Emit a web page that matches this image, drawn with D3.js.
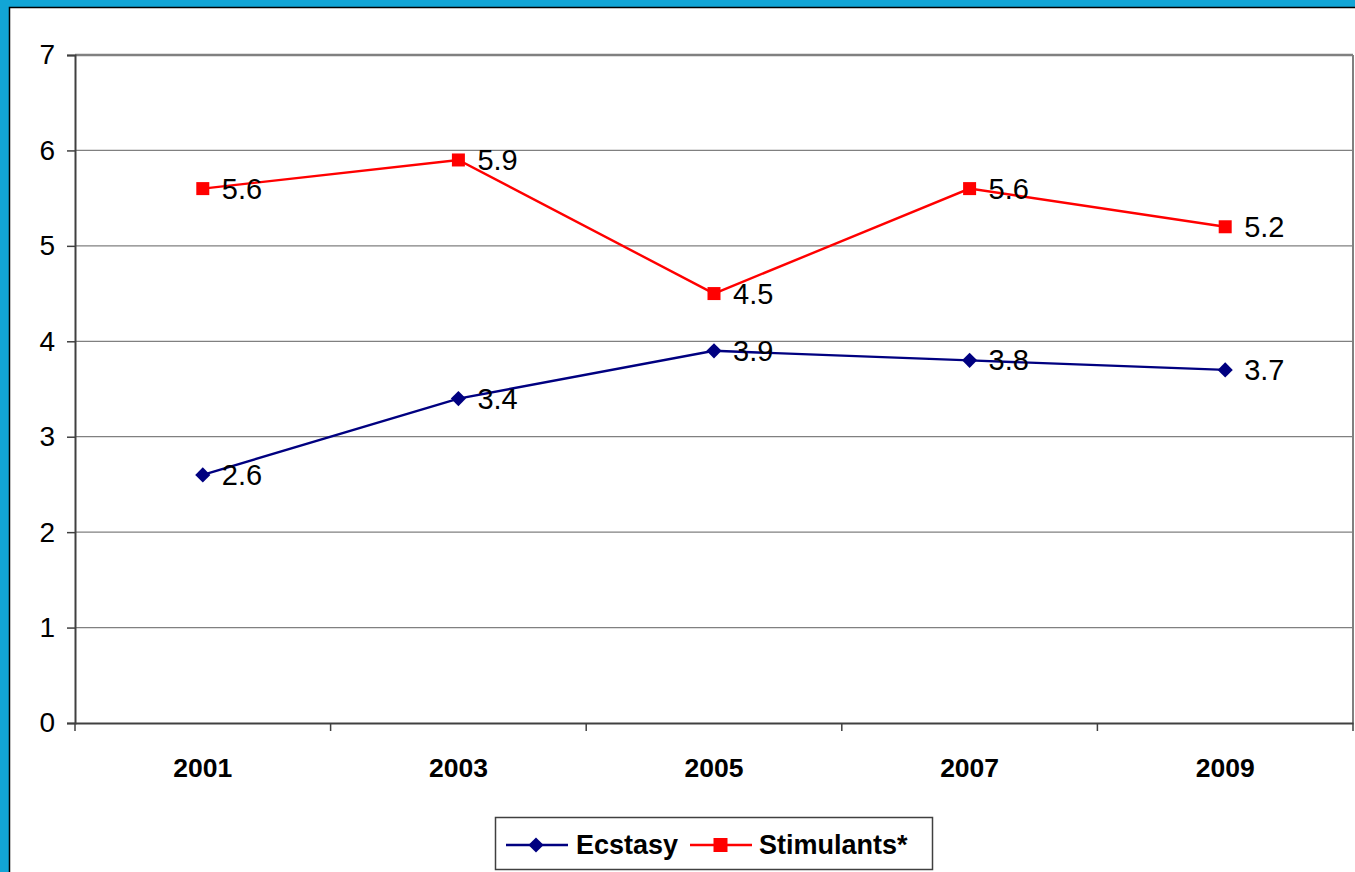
<!DOCTYPE html>
<html><head><meta charset="utf-8">
<script src="https://cdn.jsdelivr.net/npm/d3@7"></script>
<style>
html,body{margin:0;padding:0;background:#fff;}
svg{display:block;font-family:"Liberation Sans",Arial,sans-serif;}
</style></head>
<body>
<svg id="c" width="1355" height="872"></svg>
<script>
const categories = ["2001","2003","2005","2007","2009"];
const ecstasy = [2.6, 3.4, 3.9, 3.8, 3.7];
const stimulants = [5.6, 5.9, 4.5, 5.6, 5.2];
const yTicks = [0,1,2,3,4,5,6,7];
const seriesNames = ["Ecstasy","Stimulants*"];

const svg = d3.select("#c");
const W = 1355, H = 872;
const FF = "Liberation Sans, Arial, sans-serif";
// frame
svg.append("rect").attr("x",0).attr("y",0).attr("width",W).attr("height",H).attr("fill","#12A5D6");
svg.append("rect").attr("x",9.5).attr("y",7.5).attr("width",W).attr("height",H).attr("fill","#fff").attr("stroke","#000").attr("stroke-width",1.5);

const L = 75, R = 1353, T = 55, B = 723;
const x = d3.scaleBand().domain(categories).range([L,R]);
const y = d3.scaleLinear().domain([0,7]).range([B,T]);
const cx = d => x(d) + x.bandwidth()/2;

// gridlines
svg.append("g").selectAll("line").data(yTicks.filter(d=>d>0)).join("line")
  .attr("x1",L).attr("x2",R).attr("y1",d=>y(d)).attr("y2",d=>y(d))
  .attr("stroke","#808080").attr("stroke-width",d=>d===7?2.5:1.2);
// right border
svg.append("line").attr("x1",R).attr("x2",R).attr("y1",T).attr("y2",B).attr("stroke","#808080").attr("stroke-width",2);

// y axis
const ya = svg.append("g").attr("transform",`translate(${L},0)`)
  .call(d3.axisLeft(y).tickValues(yTicks).tickSize(8).tickPadding(12).tickFormat(d3.format("d")));
ya.select(".domain").attr("stroke","#404040").attr("stroke-width",2);
ya.selectAll(".tick line").attr("stroke","#404040").attr("stroke-width",1.5);
ya.selectAll("text").attr("font-size",28).attr("fill","#000").attr("font-family",FF);

// x axis
const xa = svg.append("g").attr("transform",`translate(0,${B})`)
  .call(d3.axisBottom(x).tickSize(0).tickPadding(35));
xa.select(".domain").attr("stroke","#404040").attr("stroke-width",2);
xa.selectAll("text").attr("font-size",26.5).attr("font-weight","bold").attr("fill","#000").attr("font-family",FF);
// category separators
svg.append("g").selectAll("line").data(d3.range(0,categories.length+1)).join("line")
  .attr("x1",i=>L+i*x.bandwidth()).attr("x2",i=>L+i*x.bandwidth())
  .attr("y1",B).attr("y2",B+8).attr("stroke","#404040").attr("stroke-width",1.5);

const line = d3.line().x((d,i)=>cx(categories[i])).y(d=>y(d));
const colors = ["#000080","#FF0000"];
const data = [ecstasy, stimulants];

data.forEach((s,k)=>{
  svg.append("path").datum(s).attr("d",line).attr("fill","none").attr("stroke",colors[k]).attr("stroke-width",2.4);
});
// markers
svg.append("g").selectAll("path").data(ecstasy).join("path")
  .attr("d",d3.symbol(d3.symbolSquare,115))
  .attr("transform",(d,i)=>`translate(${cx(categories[i])},${y(d)}) rotate(45)`)
  .attr("fill",colors[0]);
svg.append("g").selectAll("rect").data(stimulants).join("rect")
  .attr("x",(d,i)=>cx(categories[i])-6.5).attr("y",d=>y(d)-6.5).attr("width",13).attr("height",13)
  .attr("fill",colors[1]);

// labels
data.forEach((s,k)=>{
  svg.append("g").selectAll("text").data(s).join("text")
    .attr("x",(d,i)=>cx(categories[i])+19).attr("y",d=>y(d)+10)
    .attr("font-size",29).attr("fill","#000").text(d=>d3.format(".1f")(d));
});

// legend
const lg = svg.append("g");
lg.append("rect").attr("x",495.5).attr("y",817.5).attr("width",437).attr("height",52)
  .attr("fill","#fff").attr("stroke","#404040").attr("stroke-width",1.5);
const ly = 845;
lg.append("line").attr("x1",506).attr("x2",568).attr("y1",ly).attr("y2",ly).attr("stroke",colors[0]).attr("stroke-width",2.4);
lg.append("path").attr("d",d3.symbol(d3.symbolSquare,115)).attr("transform",`translate(536,${ly}) rotate(45)`).attr("fill",colors[0]);
lg.append("text").attr("x",576).attr("y",ly+9).attr("font-size",27).attr("font-weight","bold").text(seriesNames[0]);
lg.append("line").attr("x1",690).attr("x2",752).attr("y1",ly).attr("y2",ly).attr("stroke",colors[1]).attr("stroke-width",2.4);
lg.append("rect").attr("x",713.5).attr("y",ly-7).attr("width",14).attr("height",14).attr("fill",colors[1]);
lg.append("text").attr("x",759).attr("y",ly+9).attr("font-size",27).attr("font-weight","bold").text(seriesNames[1]);
</script>
</body></html>
